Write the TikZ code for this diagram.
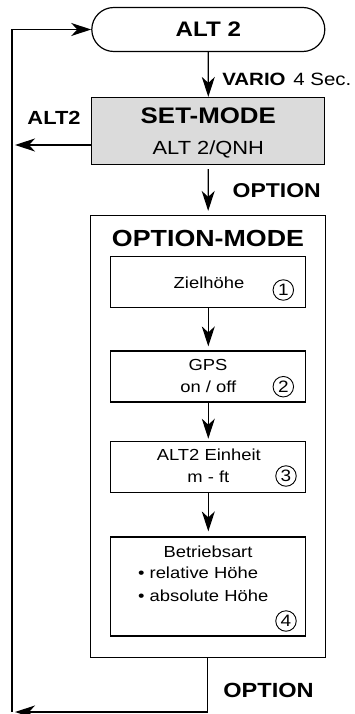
\documentclass[tikz,border=0pt]{standalone}
\usepackage{fontspec}
\setmainfont{Liberation Sans}[FakeStretch=1.15]
\usepackage{tikz}
\usetikzlibrary{shapes.misc}
\usetikzlibrary{arrows.meta}
\tikzstyle{startbox}=[rounded rectangle,draw=black,inner sep=0mm,minimum width=233pt,minimum height=44pt,font=\fontsize{21}{25}\selectfont\bfseries]
\tikzstyle{setbox}=[rectangle,draw=black,fill=black!14,minimum width=233pt,minimum height=67pt]
\tikzstyle{modebox}=[rectangle,draw=black,minimum width=235pt,minimum height=442pt]
\tikzstyle{optbox}=[rectangle,draw=black,minimum width=195pt,minimum height=51pt]
\tikzstyle{txt}=[inner sep=0mm,anchor=base]
\tikzstyle{head}=[txt,font=\fontsize{22.5}{26}\selectfont\bfseries]
\tikzstyle{sub}=[txt,font=\fontsize{19}{23}\selectfont]
\tikzstyle{key}=[txt,font=\fontsize{20}{24}\selectfont\bfseries]
\tikzstyle{small}=[txt,font=\fontsize{16}{19}\selectfont]
\tikzstyle{num}=[circle,draw=black,line width=0.9pt,inner sep=0mm,minimum size=20.5pt,font=\fontsize{16.5}{18}\selectfont]
\tikzstyle{arrow}=[-{Stealth[length=20pt,width=13pt,inset=6pt]}]
\tikzset{every picture/.style={
    line width=1.2pt
  }
}
\begin{document}
\begin{tikzpicture}[x=1pt,y=-1pt]
          \useasboundingbox (0,0) rectangle (355,714);
          \node[startbox] at (208.3,29.5) (alt) {ALT 2};
          \node[setbox] at (208.3,131) (set) {};
          \node[head] at (208.3,123.3) (settitle) {SET-MODE};
          \node[sub] at (208.3,155) (setsub) {ALT 2/QNH};
          \node[txt,anchor=base west,font=\fontsize{17.8}{21}\selectfont] at (221.7,86) (vario) {\textbf{VARIO}\hspace{2pt} 4 Sec.};
          \node[key,font=\fontsize{19}{23}\selectfont\bfseries] at (54,125) (back) {ALT2};
          \node[key] at (276.7,197.3) (opt) {OPTION};
          \node[modebox] at (207.8,436.5) (mode) {};
          \node[head,font=\fontsize{23.3}{27}\selectfont\bfseries] at (208,246.7) (modetitle) {OPTION-MODE};
          \node[optbox] at (208.3,282.3) (ziel) {};
          \node[small] at (209,288.3) (zieltxt) {Zielhöhe};
          \node[num] at (283.3,290) (n1) {1};
          \node[optbox] at (208.3,376.5) (gps) {};
          \node[small] at (208,370) (gpstxt) {GPS};
          \node[small] at (208.3,392.3) (gpsonoff) {on / off};
          \node[num] at (283.3,386.7) (n2) {2};
          \node[optbox] at (208.3,466.8) (unit) {};
          \node[small] at (208.8,460) (unittxt) {ALT2 Einheit};
          \node[small] at (208.3,482.7) (unitval) {m - ft};
          \node[num] at (286,476) (n3) {3};
          \node[optbox,minimum height=99pt] at (208.3,586.5) (betr) {};
          \node[small] at (208,557.3) (betrtxt) {Betriebsart};
          \node[small,anchor=base west] at (137.5,578.7) (rel) {• relative Höhe};
          \node[small,anchor=base west] at (137.5,601.7) (abs) {• absolute Höhe};
          \node[num] at (286,621) (n4) {4};
          \node[key,font=\fontsize{20.5}{24}\selectfont\bfseries] at (268.5,697.3) (optback) {OPTION};
          \coordinate (loop) at (12,712);
          \coordinate (exit) at (15,145);
          \coordinate (ret) at (15,712);
          \draw[arrow] (loop) |- (alt.west);
          \draw[arrow] (alt)--(set);
          \draw[arrow] (set.west |- exit)--(exit);
          \draw[arrow,shorten <=4pt,shorten >=4pt] (set)--(mode);
          \draw[arrow,shorten >=4pt] (ziel)--(gps);
          \draw[arrow,shorten >=2pt] (gps)--(unit);
          \draw[arrow,shorten >=5pt] (unit)--(betr);
          \draw[arrow] (mode.south) |- (ret);
        \end{tikzpicture}
\end{document}
